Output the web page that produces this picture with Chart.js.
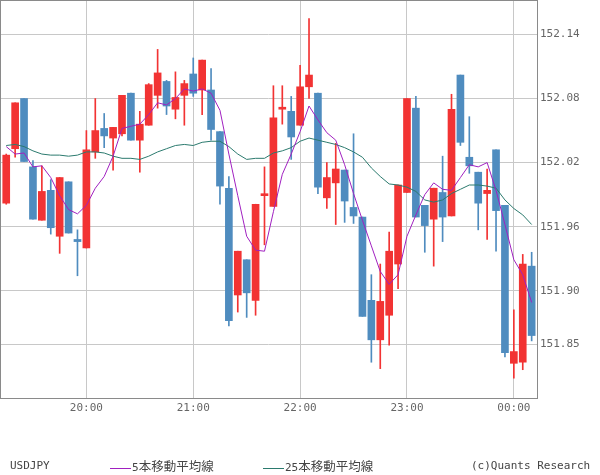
<!DOCTYPE html>
<html>
<head>
<meta charset="utf-8">
<script src="https://cdn.jsdelivr.net/npm/chart.js@4"></script>
<style>
  body { margin: 0; background: #fff; }
  #wrap { position: relative; width: 600px; height: 475px; }
  .ft { position: absolute; top: 458px; font: 11px "DejaVu Sans Mono", monospace; color: #444; line-height: 16px; white-space: nowrap; }
  .cjk { font-family: "Noto Sans CJK JP", sans-serif; font-size: 12.5px; }
  .sw { display: inline-block; width: 21px; height: 0; border-top: 1px solid; vertical-align: middle; margin-right: 1px; }
</style>
</head>
<body>
<div id="wrap">
  <canvas id="c" width="600" height="475"></canvas>
  <span class="ft" style="left:10px">USDJPY</span>
  <span class="ft" style="left:110px"><span class="sw" style="border-color:#a020c0"></span>5<span class="cjk">本移動平均線</span></span>
  <span class="ft" style="left:263px"><span class="sw" style="border-color:#2b7a6e"></span>25<span class="cjk">本移動平均線</span></span>
  <span class="ft" style="left:471px">(c)Quants Research</span>
</div>
<script>
// 5-minute bars, 19:15 -> 00:10
const times = ["19:15","19:20","19:25","19:30","19:35","19:40","19:45","19:50","19:55",
  "20:00","20:05","20:10","20:15","20:20","20:25","20:30","20:35","20:40","20:45","20:50","20:55",
  "21:00","21:05","21:10","21:15","21:20","21:25","21:30","21:35","21:40","21:45","21:50","21:55",
  "22:00","22:05","22:10","22:15","22:20","22:25","22:30","22:35","22:40","22:45","22:50","22:55",
  "23:00","23:05","23:10","23:15","23:20","23:25","23:30","23:35","23:40","23:45","23:50","23:55",
  "00:00","00:05","00:10"];

const opens = [151.982,152.033,152.080,152.016,151.966,151.994,151.951,152.002,151.948,
  151.940,152.030,152.052,152.043,152.047,152.085,152.041,152.055,152.083,152.096,152.070,152.083,
  152.103,152.088,152.088,152.049,151.996,151.896,151.929,151.891,151.989,151.979,152.070,152.068,
  152.055,152.091,152.085,151.987,152.001,152.013,151.978,151.969,151.891,151.854,151.877,151.925,
  151.992,152.071,151.980,151.967,151.992,151.970,152.102,152.025,152.011,151.991,152.032,151.980,
  151.832,151.833,151.923];
const highs = [152.028,152.076,152.080,152.022,152.017,152.004,152.006,152.002,151.957,
  152.050,152.080,152.066,152.053,152.083,152.085,152.068,152.094,152.126,152.097,152.105,152.097,
  152.118,152.116,152.108,152.049,152.007,151.937,151.929,151.981,152.016,152.092,152.092,152.082,
  152.111,152.155,152.085,152.020,152.038,152.013,152.047,151.969,151.915,151.925,151.955,151.999,
  152.080,152.082,151.980,151.996,152.026,152.084,152.102,152.063,152.011,152.014,152.032,151.980,
  151.882,151.934,151.936];
const lows = [151.981,152.025,152.021,151.967,151.966,151.953,151.935,151.954,151.914,
  151.940,152.024,152.034,152.013,152.045,152.041,152.011,152.055,152.071,152.065,152.061,152.055,
  152.082,152.065,152.041,151.981,151.867,151.880,151.875,151.877,151.943,151.979,152.056,152.023,
  152.055,152.080,151.991,151.977,151.962,151.964,151.963,151.876,151.833,151.827,151.849,151.902,
  151.992,151.969,151.936,151.923,151.946,151.970,152.036,152.010,151.957,151.948,151.937,151.838,
  151.818,151.826,151.853];
const closes = [152.027,152.076,152.021,151.967,151.993,151.959,152.006,151.954,151.946,
  152.032,152.050,152.045,152.053,152.083,152.041,152.056,152.093,152.104,152.073,152.081,152.094,
  152.085,152.116,152.051,151.998,151.872,151.937,151.898,151.981,151.990,152.062,152.071,152.044,
  152.091,152.102,151.997,152.006,152.014,151.984,151.970,151.876,151.854,151.890,151.937,151.999,
  152.080,151.969,151.961,151.996,151.969,152.070,152.039,152.017,151.982,151.994,151.975,151.842,
  151.843,151.925,151.858];

// moving averages
const ma5 = [152.035,152.028,152.029,152.016,152.017,152.006,151.989,151.976,151.972,
  151.980,151.996,152.007,152.026,152.052,152.054,152.056,152.065,152.076,152.074,152.080,152.089,
  152.087,152.089,152.085,152.069,152.028,151.989,151.951,151.938,151.937,151.974,152.009,152.028,
  152.049,152.073,152.060,152.048,152.041,152.018,151.991,151.966,151.942,151.918,151.906,151.915,
  151.951,151.971,151.990,152.001,151.995,151.994,152.006,152.018,152.016,152.020,151.994,151.962,
  151.929,151.915,151.889];
const ma25 = [152.036,152.037,152.035,152.031,152.028,152.027,152.027,152.026,152.027,
  152.030,152.030,152.029,152.026,152.024,152.024,152.023,152.026,152.030,152.033,152.036,152.037,
  152.036,152.039,152.040,152.040,152.035,152.028,152.023,152.024,152.024,152.029,152.031,152.034,
  152.040,152.043,152.041,152.039,152.037,152.034,152.030,152.025,152.015,152.007,152.000,151.999,
  151.997,151.993,151.985,151.983,151.985,151.991,151.995,151.999,151.999,151.998,151.996,151.985,
  151.977,151.971,151.962];

const hourTicks = [9, 21, 33, 45, 57];
const priceTicks = [151.85, 151.90, 151.96, 152.02, 152.08, 152.14];

const upColor = '#f23333';
const downColor = '#4f8cbf';
const candleColors = opens.map((o, i) => closes[i] >= o ? upColor : downColor);

// frame around the plot area
const framePlugin = {
  id: 'frame',
  afterDraw(chart) {
    const a = chart.chartArea, ctx = chart.ctx;
    ctx.save();
    ctx.strokeStyle = '#8a8a8a';
    ctx.lineWidth = 1;
    ctx.strokeRect(Math.round(a.left) + 0.5, Math.round(a.top) + 0.5,
      Math.round(a.right - a.left), Math.round(a.bottom - a.top));
    ctx.restore();
  }
};

new Chart(document.getElementById('c'), {
  type: 'bar',
  data: {
    datasets: [
      {
        type: 'line', label: '5本移動平均線',
        data: ma5.map((v, i) => ({x: i, y: v})),
        borderColor: '#a020c0', borderWidth: 1, pointRadius: 0, tension: 0, order: 0
      },
      {
        type: 'line', label: '25本移動平均線',
        data: ma25.map((v, i) => ({x: i, y: v})),
        borderColor: '#2b7a6e', borderWidth: 1, pointRadius: 0, tension: 0, order: 1
      },
      {
        label: 'body',
        data: opens.map((o, i) => ({x: i, y: [o, closes[i]]})),
        backgroundColor: candleColors, barThickness: 7, minBarLength: 2,
        grouped: false, order: 2
      },
      {
        label: 'wick',
        data: lows.map((l, i) => ({x: i, y: [l, highs[i]]})),
        backgroundColor: candleColors, barThickness: 1,
        grouped: false, order: 3
      }
    ]
  },
  options: {
    responsive: false,
    devicePixelRatio: 1,
    animation: false,
    layout: { padding: 0 },
    plugins: { legend: { display: false }, tooltip: { enabled: false } },
    scales: {
      x: {
        type: 'linear', min: -0.7, max: 59.6, offset: false,
        afterBuildTicks: s => { s.ticks = hourTicks.map(v => ({value: v})); },
        afterFit: s => { s.height = 77; s.paddingLeft = 0; s.paddingRight = 0; },
        ticks: {
          callback: v => times[v],
          font: { family: 'DejaVu Sans Mono', size: 11 },
          color: '#666', padding: 4, maxRotation: 0
        },
        grid: { color: '#c8c8c8', drawTicks: false, offset: false },
        border: { display: false }
      },
      y: {
        position: 'right', min: 151.7995, max: 152.1723,
        afterBuildTicks: s => { s.ticks = priceTicks.map(v => ({value: v})); },
        afterFit: s => { s.width = 63; s.paddingTop = 0; s.paddingBottom = 0; },
        ticks: {
          callback: v => v.toFixed(2),
          font: { family: 'DejaVu Sans Mono', size: 11 },
          color: '#666', padding: 3
        },
        grid: { color: '#c8c8c8', drawTicks: false },
        border: { display: false }
      }
    }
  },
  plugins: [framePlugin]
});
</script>
</body>
</html>
